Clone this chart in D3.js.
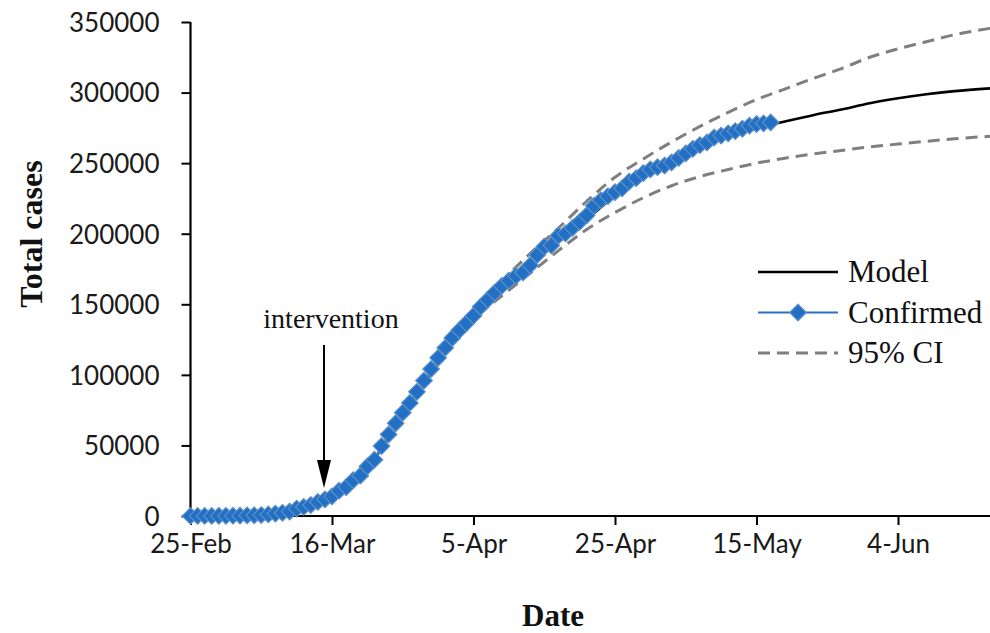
<!DOCTYPE html>
<html>
<head>
<meta charset="utf-8">
<script src="https://cdn.jsdelivr.net/npm/d3@7"></script>
<style>
  body { margin: 0; background: #fff; }
  svg { display: block; }
  .tick text { font-family: Lato, "Open Sans", sans-serif; font-size: 26px; fill: #1a1a1a; }
  .ttl { font-family: "Liberation Serif", "Times New Roman", serif; font-weight: bold; fill: #111; }
  .lg, .note { font-family: "Liberation Serif", "Times New Roman", serif; fill: #111; }
</style>
</head>
<body>
<svg id="chart" width="990" height="633"></svg>
<script>
// days counted from 25-Feb
var tickDays = [0, 20, 40, 60, 80, 100],
    tickLabels = ["25-Feb", "16-Mar", "5-Apr", "25-Apr", "15-May", "4-Jun"],
    yTicks = [0, 50000, 100000, 150000, 200000, 250000, 300000, 350000];

// confirmed cases, one per day, day 0 .. 82
var confirmed = [
  15, 32, 45, 84, 120, 165, 222, 259, 400, 500,
  673, 1073, 1695, 2277, 3146, 5232, 6391, 7798, 9942, 11748,
  13910, 17963, 20410, 25374, 28603, 35136, 39885, 49515, 57786, 65719,
  73235, 80110, 87956, 95923, 104118, 112065, 119199, 126168, 131646, 136675,
  141942, 148220, 153222, 158273, 163027, 166831, 170099, 172541, 177644, 184948,
  190839, 191726, 198674, 200210, 204178, 208389, 213024, 219764, 223759, 226629,
  229422, 232128, 236899, 239369, 242988, 245567, 247122, 248301, 250561, 253682,
  256855, 260117, 262783, 264663, 268143, 269520, 271095, 272646, 274367, 276505,
  277719, 278188, 278803
];

// model and 95% CI, read at these days
var fitDays = [0, 8, 12, 16, 20, 24, 28, 32, 36, 40, 44, 48, 52, 56, 60, 64, 68, 72, 76, 80, 84, 88, 92, 96, 100, 104, 108, 113];
var model = [300, 900, 2500, 6000, 13000, 28000, 55000, 86000, 116000, 140000, 160000, 178000, 194000, 210000,
             227000, 240000, 251000, 260500, 268500, 274500, 279500, 284000, 288000, 292500, 296000, 298800, 301000, 303000];
var ciUpper = [300, 900, 2500, 6000, 13000, 28000, 55000, 86000, 118000, 143000, 166000, 186000, 204000, 223000,
               240000, 253000, 265000, 276000, 286000, 295000, 302500, 310000, 317000, 325000, 331000, 336000, 341000, 345500];
var ciLower = [300, 900, 2500, 6000, 13000, 28000, 55000, 86000, 115000, 139000, 156000, 172000, 188000, 203000,
               215000, 225500, 234000, 240500, 245500, 250000, 253500, 256500, 259000, 261500, 263500, 265500, 267300, 269000];

var legendItems = ["Model", "Confirmed", "95% CI"];

var svg = d3.select("#chart");

var x = d3.scaleLinear().domain([0, 113]).range([190.5, 990]),
    y = d3.scaleLinear().domain([0, 350000]).range([516, 22]);

// axes
var xAxis = d3.axisBottom(x).tickValues(tickDays).tickSize(9).tickPadding(10)
  .tickFormat(function(d, i) { return tickLabels[i]; });
var yAxis = d3.axisLeft(y).tickValues(yTicks).tickSize(9).tickPadding(22)
  .tickFormat(d3.format("d"));

var gx = svg.append("g").attr("transform", "translate(0,516)").call(xAxis);
var gy = svg.append("g").attr("transform", "translate(190.5,0)").call(yAxis);
[gx, gy].forEach(function(g) {
  g.select(".domain").attr("stroke", "#000").attr("stroke-width", 2.2);
  g.selectAll(".tick line").attr("stroke", "#000").attr("stroke-width", 2);
});
gx.select(".domain").attr("d", "M190.5,0H990");
gy.select(".domain").attr("d", "M0,516V22");
gy.selectAll(".tick text").attr("dy", "0.36em");

// lines
var line = function(vals) {
  return d3.line()
    .x(function(d, i) { return x(fitDays[i]); })
    .y(function(d) { return y(d); })
    .curve(d3.curveMonotoneX)(vals);
};

svg.append("path").attr("d", line(model))
  .attr("fill", "none").attr("stroke", "#000").attr("stroke-width", 2.6);
[ciUpper, ciLower].forEach(function(vals) {
  svg.append("path").attr("d", line(vals))
    .attr("fill", "none").attr("stroke", "#7f7f7f").attr("stroke-width", 3)
    .attr("stroke-dasharray", "12,7");
});

var diamond = d3.symbol().type(d3.symbolDiamond2).size(175);

svg.append("path")
  .attr("d", d3.line().x(function(d, i) { return x(i); }).y(function(d) { return y(d); })(confirmed))
  .attr("fill", "none").attr("stroke", "#2c72c2").attr("stroke-width", 2);

svg.append("g").selectAll("path")
  .data(confirmed)
  .join("path")
  .attr("d", diamond)
  .attr("transform", function(d, i) { return "translate(" + x(i) + "," + y(d) + ")"; })
  .attr("fill", "#2170c4")
  .attr("stroke", "#5e8fc9")
  .attr("stroke-width", 1.2);

// intervention arrow
svg.append("text").attr("class", "note")
  .attr("x", 331).attr("y", 328).attr("text-anchor", "middle")
  .style("font-size", "28px").text("intervention");
svg.append("line")
  .attr("x1", 324).attr("x2", 324).attr("y1", 345).attr("y2", 465)
  .attr("stroke", "#000").attr("stroke-width", 2);
svg.append("path")
  .attr("d", "M317,460L331,460L324,488Z").attr("fill", "#000");

// legend
var lg = svg.append("g");
legendItems.forEach(function(name, i) {
  var ly = 272 + i * 40.5;
  var l = lg.append("line").attr("x1", 758).attr("x2", 838).attr("y1", ly).attr("y2", ly);
  if (i == 0) l.attr("stroke", "#000").attr("stroke-width", 2.6);
  if (i == 1) {
    l.attr("stroke", "#2c72c2").attr("stroke-width", 2);
    lg.append("path").attr("d", diamond)
      .attr("transform", "translate(798," + ly + ")")
      .attr("fill", "#2170c4").attr("stroke", "#5e8fc9").attr("stroke-width", 1.2);
  }
  if (i == 2) l.attr("stroke", "#7f7f7f").attr("stroke-width", 3).attr("stroke-dasharray", "12,7");
  lg.append("text").attr("class", "lg")
    .attr("x", 848).attr("y", ly + 10)
    .style("font-size", "31px").text(name);
});

// axis titles
svg.append("text").attr("class", "ttl")
  .attr("x", 553).attr("y", 626).attr("text-anchor", "middle")
  .style("font-size", "31px").text("Date");
svg.append("text").attr("class", "ttl")
  .attr("transform", "translate(42,234) rotate(-90)").attr("text-anchor", "middle")
  .style("font-size", "32px").text("Total cases");
</script>
</body>
</html>
